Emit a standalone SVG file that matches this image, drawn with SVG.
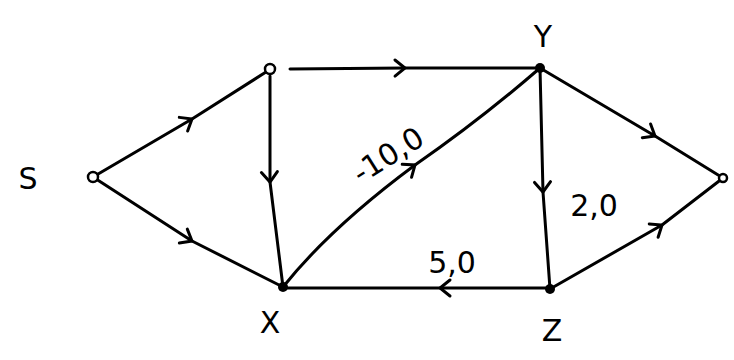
<svg xmlns="http://www.w3.org/2000/svg" width="734" height="360" viewBox="0 0 734 360">
<style>
.e{fill:none;stroke:#000;stroke-width:3;stroke-linecap:round;stroke-linejoin:round;marker-mid:url(#chev)}
.open{fill:#fff;stroke:#000;stroke-width:2.5}
.dot{fill:#000}
text{font-family:"DejaVu Sans",sans-serif;font-size:30px;fill:#000;text-anchor:middle;dominant-baseline:central}
</style>
<defs>
<marker id="chev" markerUnits="userSpaceOnUse" markerWidth="30" markerHeight="30" refX="0" refY="0" viewBox="-15 -15 30 30" orient="auto" overflow="visible">
<path d="M-10,-8 L0,0 L-10,8" fill="none" stroke="#000" stroke-width="3" stroke-linecap="round"/>
</marker>
</defs>
<rect width="734" height="360" fill="#fff"/>
<g id="connectors">
<path class="e" d="M93,177 L192,119 L266,72"/>
<path class="e" d="M93,177 L192,241 L283,287"/>
<path class="e" d="M290,69 L405,68 L540,68"/>
<path class="e" d="M270,76 L270,182 L283,287"/>
<path class="e" d="M283,287 Q330,228 415,165 Q480,120 540,68"/>
<path class="e" d="M540,68 L655,136 L723,178"/>
<path class="e" d="M540,68 L543,192 L550,289"/>
<path class="e" d="M550,288 L440,288 L283,288"/>
<path class="e" d="M550,289 L662,225 L723,178"/>
</g>
<g id="node-s"><circle class="open" cx="93" cy="177" r="5"/><text x="28" y="178">S</text></g>
<g id="node-a"><circle class="open" cx="270" cy="69" r="5"/></g>
<g id="node-y"><circle class="dot" cx="540" cy="68" r="5"/><text x="543" y="36">Y</text></g>
<g id="node-t"><circle class="open" cx="723" cy="178" r="4"/></g>
<g id="node-x"><circle class="dot" cx="283" cy="287" r="5"/><text x="270" y="322">X</text></g>
<g id="node-z"><circle class="dot" cx="550" cy="289" r="5"/><text x="552" y="330">Z</text></g>
<g id="labels">
<text x="388" y="155" transform="rotate(-32 388 155)">-10,0</text>
<text x="594" y="205">2,0</text>
<text x="452" y="262">5,0</text>
</g>
</svg>
